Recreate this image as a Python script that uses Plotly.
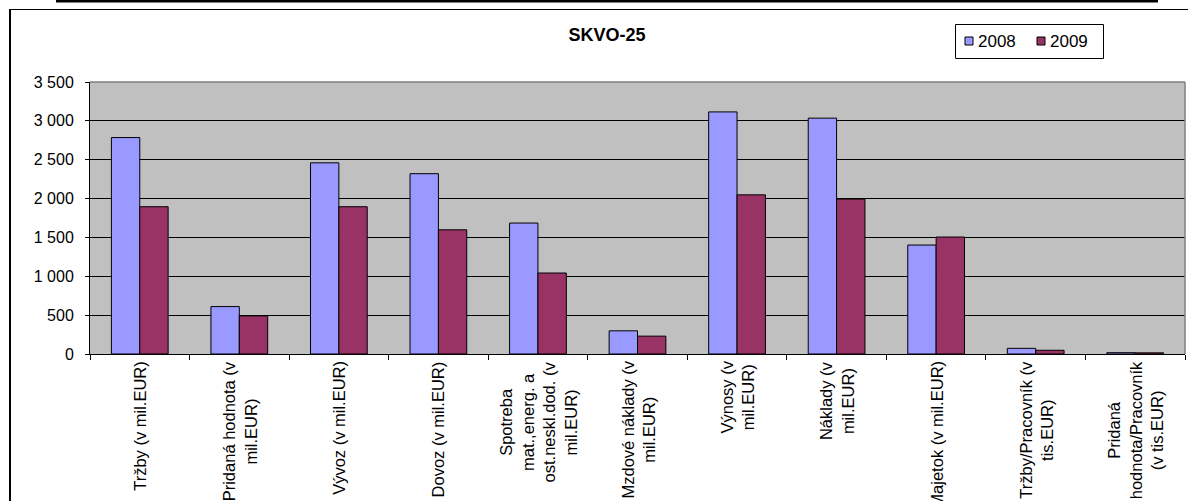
import plotly.graph_objects as go

categories = [
    "Tržby (v mil.EUR)",
    "Pridaná hodnota (v mil.EUR)",
    "Vývoz (v mil.EUR)",
    "Dovoz (v mil.EUR)",
    "Spotreba mat.,energ. a ost.neskl.dod. (v mil.EUR)",
    "Mzdové náklady (v mil.EUR)",
    "Výnosy (v mil.EUR)",
    "Náklady (v mil.EUR)",
    "Majetok (v mil.EUR)",
    "Tržby/Pracovník (v tis.EUR)",
    "Pridaná hodnota/Pracovník (v tis.EUR)",
]
tick_labels = [
    "Tržby (v mil.EUR)",
    "Pridaná hodnota (v<br>mil.EUR)",
    "Vývoz (v mil.EUR)",
    "Dovoz (v mil.EUR)",
    "Spotreba<br>mat.,energ. a<br>ost.neskl.dod. (v<br>mil.EUR)",
    "Mzdové náklady (v<br>mil.EUR)",
    "Výnosy (v<br>mil.EUR)",
    "Náklady (v<br>mil.EUR)",
    "Majetok (v mil.EUR)",
    "Tržby/Pracovník (v<br>tis.EUR)",
    "Pridaná<br>hodnota/Pracovník<br>(v tis.EUR)",
]
series_names = ["2008", "2009"]
values_2008 = [2785, 610, 2460, 2320, 1685, 298, 3115, 3035, 1402, 73, 17]
values_2009 = [1895, 490, 1895, 1598, 1042, 230, 2048, 1994, 1505, 48, 15]
y_ticks = [0, 500, 1000, 1500, 2000, 2500, 3000, 3500]

W, H = 1188, 501
ML, MR, MT, MB = 90, 3, 82, 147
PW = W - ML - MR
PH = H - MT - MB

def px(x):
    return (x - ML) / PW

def py(y):
    return (H - MB - y) / PH

FONT = "Arial, Liberation Sans, sans-serif"
COLORS = ["#9999FF", "#993366"]

fig = go.Figure()
for name, vals, col in zip(series_names, [values_2008, values_2009], COLORS):
    fig.add_trace(go.Bar(name=name, x=categories, y=vals, showlegend=False,
                         marker=dict(color=col, line=dict(color="black", width=1))))

annotations = []
for cat, lab in zip(categories, tick_labels):
    annotations.append(dict(
        x=cat, xref="x", y=0, yref="paper", yanchor="top", xanchor="center",
        yshift=-5, text=lab, textangle=-90, align="center", showarrow=False,
        font=dict(family=FONT, size=16.5, color="black")))

shapes = [
    # thick top line
    dict(type="line", xref="paper", yref="paper", x0=px(56), x1=px(1158), y0=py(1), y1=py(1),
         line=dict(color="black", width=3)),
    # outer frame top
    dict(type="line", xref="paper", yref="paper", x0=px(9), x1=px(1190), y0=py(9.5), y1=py(9.5),
         line=dict(color="black", width=1.2)),
    # outer frame left
    dict(type="line", xref="paper", yref="paper", x0=px(10), x1=px(10), y0=py(9), y1=py(505),
         line=dict(color="black", width=2)),
    # plot area border top/right (gray)
    dict(type="line", xref="paper", yref="paper", x0=0, x1=1, y0=1, y1=1,
         line=dict(color="#808080", width=1.5)),
    dict(type="line", xref="paper", yref="paper", x0=1, x1=1, y0=0, y1=1,
         line=dict(color="#808080", width=1.5)),
    # legend box
    dict(type="rect", xref="paper", yref="paper", x0=px(955.5), x1=px(1103.5), y0=py(24.5), y1=py(58.5),
         line=dict(color="black", width=1), fillcolor="white"),
]

# manual legend entries
leg_sq_x = [965, 1037]
leg_txt_x = [977, 1049]
leg_y = 41
for name, col, sx, tx in zip(series_names, COLORS, leg_sq_x, leg_txt_x):
    shapes.append(dict(type="rect", xref="paper", yref="paper",
                       x0=px(sx), x1=px(sx + 8), y0=py(leg_y - 4), y1=py(leg_y + 4),
                       line=dict(color="black", width=1), fillcolor=col))
    annotations.append(dict(x=px(tx), xref="paper", y=py(leg_y), yref="paper",
                            xanchor="left", yanchor="middle", text=name, showarrow=False,
                            borderpad=0, font=dict(family=FONT, size=17, color="black")))

fig.update_layout(
    width=W, height=H,
    margin=dict(l=ML, r=MR, t=MT, b=MB, pad=0),
    paper_bgcolor="white", plot_bgcolor="#C0C0C0",
    separators=", ",
    barmode="group", bargap=0.43, bargroupgap=0,
    font=dict(family=FONT, size=16, color="black"),
    title=dict(text="<b>SKVO-25</b>", x=607 / W, xref="container", xanchor="center",
               y=1 - 35 / H, yref="container", yanchor="middle",
               font=dict(family=FONT, size=18, color="black")),
    annotations=annotations,
    shapes=shapes,
    showlegend=False,
)
fig.update_xaxes(showticklabels=False, ticks="outside", tickson="boundaries", ticklen=5,
                 tickcolor="black", showline=True, linecolor="black", linewidth=1,
                 showgrid=False, fixedrange=True)
fig.update_yaxes(range=[0, 3500], tickvals=y_ticks, tickformat=",d", ticks="outside",
                 ticklen=4, tickcolor="black", showline=True, linecolor="black", linewidth=1,
                 showgrid=True, gridcolor="black", gridwidth=1, zeroline=False,
                 ticklabelstandoff=8, tickfont=dict(family=FONT, size=16, color="black"))

fig.write_html("out.html", config={"displayModeBar": False},
               post_script="document.body.style.margin='0px';document.body.style.overflow='hidden';")
